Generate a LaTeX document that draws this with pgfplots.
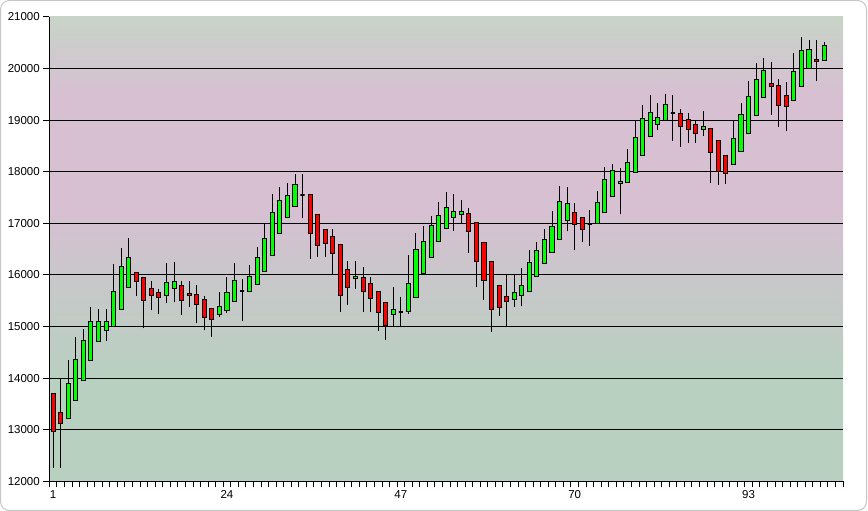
\documentclass[border=0pt]{standalone}
\usepackage{fontspec}
\setmainfont{Liberation Sans}
\usepackage{pgfplots}
\usepackage{pgfplotstable}
\pgfplotsset{compat=1.18}
\definecolor{cgreen}{RGB}{0,255,0}
\definecolor{cred}{RGB}{255,0,0}
\definecolor{bgtop}{RGB}{200,212,200}
\definecolor{bgmid}{RGB}{214,192,210}
\definecolor{bgbot}{RGB}{184,208,192}
\pgfdeclareverticalshading{chartbg}{100bp}{color(0bp)=(bgbot); color(36bp)=(bgbot); color(46bp)=(bgbot!50!bgmid); color(54bp)=(bgmid); color(67bp)=(bgmid); color(75bp)=(bgtop); color(100bp)=(bgtop)}
\pgfplotstableread{
x o h l c
1 13694 13694 12266 12970
2 13338 13978 12266 13125
3 13222 14346 13222 13900
4 13571 14792 13571 14366
5 13959 14953 13959 14734
6 14346 15373 14346 15102
7 14714 15335 14714 15102
8 14915 15335 14714 15102
9 15000 16220 15000 15671
10 15335 16517 15335 16168
11 15761 16717 15761 16342
12 16052 16052 15587 15877
13 15955 15955 14966 15509
14 15740 15877 15312 15598
15 15669 15727 15247 15565
16 15598 16227 15448 15857
17 15740 16247 15468 15877
18 15799 15877 15228 15507
19 15643 15877 15370 15598
20 15624 15799 15059 15429
21 15526 15600 14923 15176
22 15351 15351 14806 15137
23 15234 15663 15176 15390
24 15312 15955 15254 15663
25 15487 16227 15487 15896
26 15682 15916 15098 15682
27 15677 16187 15677 15974
28 15819 16535 15819 16342
29 16071 17013 16071 16710
30 16381 17574 16381 17213
31 16806 17696 16806 17445
32 17116 17774 17116 17542
33 17329 17948 17329 17754
34 17554 17948 17097 17554
35 17554 17554 16316 16806
36 17174 17174 16355 16574
37 16884 16884 16342 16613
38 16748 16884 16000 16419
39 16593 16593 15290 15607
40 16104 16279 15416 15766
41 15922 16279 15727 15961
42 15942 16156 15280 15688
43 15825 15961 15280 15552
44 15688 15688 14916 15273
45 15474 15474 14747 15020
46 15241 15766 15000 15338
47 15286 15572 14988 15286
48 15293 16389 15241 15825
49 15572 16818 15572 16487
50 16019 16954 16019 16643
51 16331 17149 16331 16954
52 16643 17421 16643 17149
53 16896 17616 16896 17304
54 17110 17577 16850 17227
55 17168 17460 17012 17227
56 17188 17304 16428 16837
57 17012 17012 15760 16253
58 16623 16623 15507 15883
59 16253 16253 14903 15325
60 15786 15786 15195 15377
61 15591 16000 15000 15494
62 15533 16000 15377 15669
63 15611 16136 15390 15786
64 15688 16487 15688 16234
65 15961 16643 15961 16467
66 16214 16896 16214 16681
67 16440 17232 16440 16942
68 16691 17715 16691 17425
69 17058 17696 16845 17386
70 17213 17386 16491 16981
71 17116 17116 16646 16884
72 16987 17251 16569 16987
73 17000 17618 17000 17406
74 17213 18082 17213 17850
75 17522 18140 17522 18024
76 17773 18063 17174 17811
77 17792 18449 17792 18179
78 17985 18990 17985 18662
79 18314 19299 18314 19029
80 18676 19493 18676 19143
81 18909 19337 18812 19045
82 18987 19513 18987 19299
83 19130 19480 18604 19130
84 19123 19221 18481 18870
85 19006 19143 18559 18812
86 18909 19006 18559 18734
87 18812 19182 18695 18870
88 18831 18831 17780 18364
89 18598 18598 17741 18014
90 18306 18306 17760 17975
91 18150 19006 18150 18637
92 18383 19337 18383 19104
93 18743 19750 18743 19454
94 19099 20105 19099 19789
95 19434 20204 19434 19967
96 19710 20125 19099 19651
97 19671 19789 18862 19276
98 19474 19730 18783 19256
99 19375 20303 19375 19947
100 19651 20619 19651 20342
101 20007 20559 20007 20362
102 20184 20559 19750 20145
103 20164 20520 20164 20441
}\data
\begin{document}
\begin{tikzpicture}
\path[use as bounding box] (0,0) rectangle (868pt,511pt);
\fill[white] (0,0) rectangle (868pt,511pt);
\draw[rounded corners=9pt, color=gray!45, line width=1pt] (0.5pt,0.5pt) rectangle (866.5pt,510.5pt);
\begin{axis}[
  at={(49.3pt,29.7pt)}, anchor=south west,
  scale only axis, width=793.7pt, height=464.4pt,
  xmin=0.5, xmax=105.5, ymin=12000, ymax=21000,
  axis x line*=bottom, axis y line*=left,
  axis line style={black, line width=0.9pt},
  tick align=outside, major tick length=6pt,
  tick style={black, line width=0.8pt},
  xtick={0.5,1.5,...,105.5}, xticklabels={},
  extra x ticks={1,24,47,70,93},
  extra x tick labels={1,24,47,70,93},
  extra x tick style={major tick length=0pt, grid=none, xticklabel style={yshift=-6pt}},
  ytick={12000,13000,...,20000},
  extra y ticks={21000},
  extra y tick style={grid=none},
  ymajorgrids, grid style={black, line width=0.9pt},
  scaled y ticks=false,
  /pgf/number format/1000 sep={},
  /pgf/number format/assume math mode=true,
  ticklabel style={font=\fontsize{11.5}{13}\selectfont, black},
  axis background/.style={shading=chartbg},
]
\pgfplotsforeachungrouped \i in {0,...,102}{%
  \pgfplotstablegetelem{\i}{x}\of\data \edef\cx{\pgfplotsretval}%
  \pgfplotstablegetelem{\i}{o}\of\data \edef\co{\pgfplotsretval}%
  \pgfplotstablegetelem{\i}{h}\of\data \edef\ch{\pgfplotsretval}%
  \pgfplotstablegetelem{\i}{l}\of\data \edef\cl{\pgfplotsretval}%
  \pgfplotstablegetelem{\i}{c}\of\data \edef\cc{\pgfplotsretval}%
  \ifnum\cc>\co \def\ccol{cgreen}\def\lw{0.9pt}\else\ifnum\cc<\co \def\ccol{cred}\def\lw{0.9pt}\else\def\ccol{black}\def\lw{2pt}\fi\fi
  \pgfmathsetmacro\xa{\cx-0.27}\pgfmathsetmacro\xb{\cx+0.27}%
  \edef\temp{\noexpand\addplot[black, line width=0.9pt, forget plot] coordinates {(\cx,\cl) (\cx,\ch)};
    \noexpand\addplot[draw=black, line width=\lw, fill=\ccol, forget plot] coordinates {(\xa,\co) (\xb,\co) (\xb,\cc) (\xa,\cc)} -- cycle;}%
  \temp
}
\end{axis}
\end{tikzpicture}
\end{document}
